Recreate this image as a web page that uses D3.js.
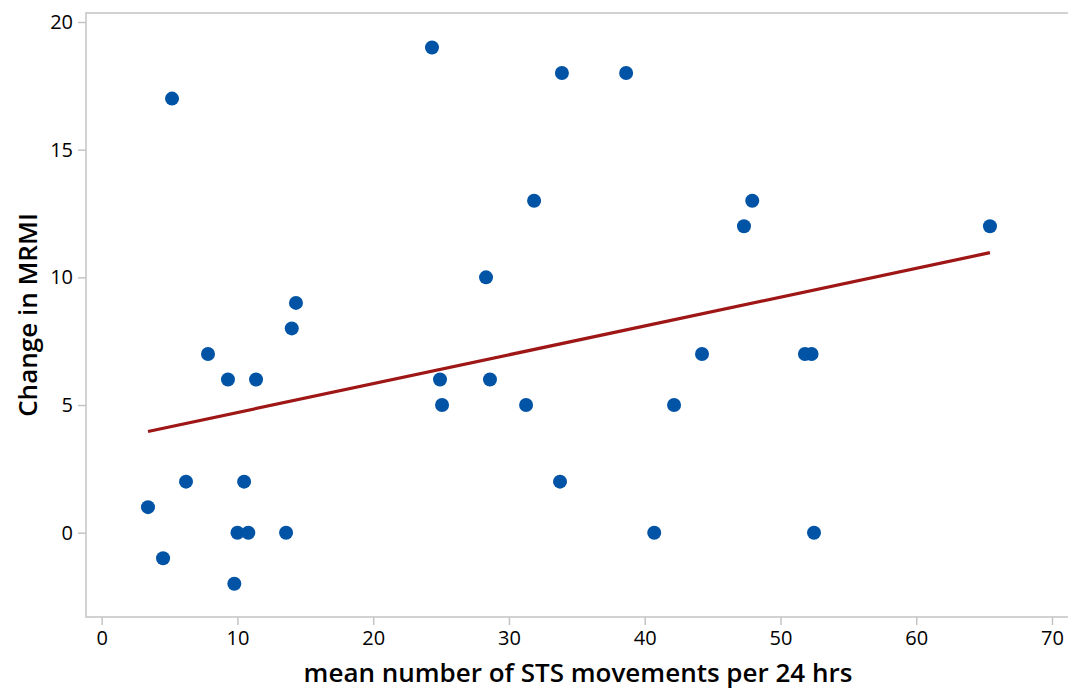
<!DOCTYPE html>
<html>
<head>
<meta charset="utf-8">
<script src="https://cdn.jsdelivr.net/npm/d3@7"></script>
<style>
  body { margin: 0; background: #fff; }
  svg { display: block; font-family: 'Open Sans', sans-serif; }
</style>
</head>
<body>
<div id="chart"></div>
<script>
// mean number of STS movements per 24 hrs
const stsMean = [3.41, 4.52, 5.18, 6.21, 7.83, 9.30, 9.77, 10.0, 10.49, 10.8, 11.37,
  13.58, 14.0, 14.31, 24.33, 24.92, 25.07, 28.31, 28.6, 31.26, 31.85, 33.76, 33.9,
  38.63, 40.7, 42.16, 44.22, 47.31, 47.92, 51.8, 52.29, 52.47, 65.43];
// change in MRMI
const mrmiChange = [1, -1, 17, 2, 7, 6, -2, 0, 2, 0, 6,
  0, 8, 9, 19, 6, 5, 10, 6, 5, 13, 2, 18,
  18, 0, 5, 7, 12, 13, 7, 7, 0, 12];
const xTicks = [0, 10, 20, 30, 40, 50, 60, 70];
const yTicks = [0, 5, 10, 15, 20];
// fitted line
const fitIntercept = 3.58;
const fitSlope = 0.1129;

const width = 1068;
const height = 691;
const frame = { left: 86, top: 13, right: 1068, bottom: 617 };

const x = d3.scaleLinear().domain([0, 70]).range([101.7, 1052]);
const y = d3.scaleLinear().domain([0, 20]).range([532.7, 22]);

const points = stsMean.map((d, i) => ({ x: d, y: mrmiChange[i] }));
const fit = d3.extent(stsMean).map((v) => ({ x: v, y: fitIntercept + fitSlope * v }));

const svg = d3
  .select('#chart')
  .append('svg')
  .attr('width', width)
  .attr('height', height);

const axisColor = '#c4c4c4';

// frame: left, top, bottom
svg
  .append('path')
  .attr('fill', 'none')
  .attr('stroke', axisColor)
  .attr('stroke-width', 1.5)
  .attr('d', `M${frame.right},${frame.top}H${frame.left}V${frame.bottom}H${frame.right}`);

const yAxis = svg
  .append('g')
  .attr('transform', `translate(${frame.left},0)`)
  .call(d3.axisLeft(y).tickValues(yTicks).tickSize(8).tickPadding(5));

const xAxis = svg
  .append('g')
  .attr('transform', `translate(0,${frame.bottom})`)
  .call(d3.axisBottom(x).tickValues(xTicks).tickSize(8).tickPadding(6));

[xAxis, yAxis].forEach((g) => {
  g.select('.domain').remove();
  g.selectAll('.tick line').attr('stroke', axisColor).attr('stroke-width', 1.5);
  g.selectAll('.tick text')
    .attr('fill', '#000')
    .attr('font-size', 20)
    .attr('font-weight', 500)
    .attr('font-family', "'Open Sans', sans-serif");
});

// regression line
svg
  .append('path')
  .datum(fit)
  .attr('fill', 'none')
  .attr('stroke', '#9e1616')
  .attr('stroke-width', 3.2)
  .attr('d', d3.line().x((d) => x(d.x)).y((d) => y(d.y)));

svg
  .append('g')
  .selectAll('circle')
  .data(points)
  .join('circle')
  .attr('cx', (d) => x(d.x))
  .attr('cy', (d) => y(d.y))
  .attr('r', 7)
  .attr('fill', '#0053a5');

svg
  .append('text')
  .attr('x', 578)
  .attr('y', 682)
  .attr('text-anchor', 'middle')
  .attr('font-size', 26)
  .attr('font-weight', 600)
  .text('mean number of STS movements per 24 hrs');

svg
  .append('text')
  .attr('transform', 'translate(37,315) rotate(-90)')
  .attr('text-anchor', 'middle')
  .attr('font-size', 26)
  .attr('font-weight', 600)
  .text('Change in MRMI');
</script>
</body>
</html>
